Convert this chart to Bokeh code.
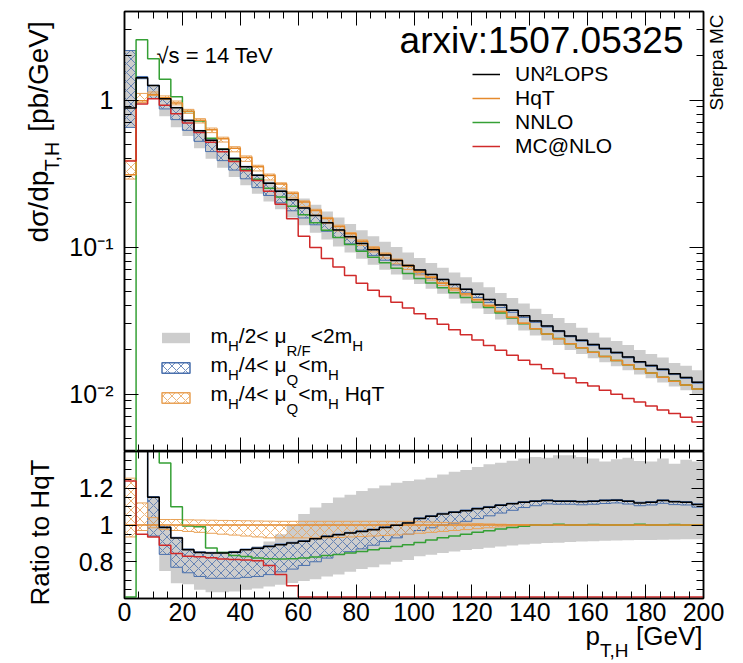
import numpy as np
from bokeh.plotting import figure
from bokeh.layouts import column
from bokeh.models import Range1d, FixedTicker, LinearAxis, LogAxis, Label, Legend, LegendItem
from bokeh.core.properties import value
from bokeh.embed import file_html
from bokeh.resources import INLINE

# ---------------- data (4 GeV bins, 0-200 GeV) ----------------
bin_edges = list(range(0, 201, 4))

# HqT central prediction [pb/GeV]
hqt = [0.31, 0.99, 1.09, 1.035, 0.955, 0.84, 0.727, 0.628, 0.545, 0.470,
       0.407, 0.352, 0.307, 0.268, 0.232, 0.202, 0.177, 0.156, 0.138, 0.123,
       0.1095, 0.0985, 0.0893, 0.0812, 0.0740, 0.0675, 0.0620, 0.0567, 0.0520, 0.0478,
       0.0438, 0.0400, 0.0364, 0.0333, 0.0303, 0.0278, 0.0256, 0.0238, 0.0220, 0.0206,
       0.0192, 0.0180, 0.0169, 0.0158, 0.0148, 0.0139, 0.0130, 0.0122, 0.0115, 0.0108]

# ratios to HqT
un2lops_ratio = [2.85, 1.43, 1.151, 0.987, 0.929, 0.865, 0.85, 0.847, 0.847, 0.852,
                 0.865, 0.874, 0.883, 0.893, 0.902, 0.911, 0.925, 0.938, 0.947, 0.956,
                 0.965, 0.974, 0.987, 0.998, 1.011, 1.035, 1.047, 1.06, 1.069, 1.078,
                 1.089, 1.097, 1.107, 1.115, 1.124, 1.129, 1.133, 1.129, 1.129, 1.126,
                 1.129, 1.133, 1.135, 1.129, 1.12, 1.124, 1.133, 1.126, 1.124, 1.111]
nnlo_ratio = [0.006, 2.6, 1.75, 1.337, 1.10, 0.995, 0.99, 0.875, 0.85, 0.834,
              0.828, 0.82, 0.816, 0.815, 0.817, 0.821, 0.826, 0.834, 0.84, 0.847,
              0.856, 0.865, 0.874, 0.883, 0.893, 0.905, 0.918, 0.93, 0.94, 0.95,
              0.96, 0.969, 0.978, 0.986, 0.993, 1.0, 0.999, 1.004, 1.0, 1.0,
              1.003, 1.0, 1.0, 1.0, 1.004, 1.0, 1.0, 1.003, 1.0, 1.0]
mcnlo_ratio = [1.24, 0.95, 0.935, 0.89, 0.845, 0.83, 0.827, 0.822, 0.815, 0.812,
               0.81, 0.806, 0.78, 0.73, 0.67, 0.585, 0.56, 0.535, 0.53, 0.52,
               0.518, 0.515, 0.516, 0.518, 0.52, 0.52, 0.524, 0.525, 0.527, 0.53,
               0.532, 0.535, 0.545, 0.55, 0.56, 0.57, 0.58, 0.58, 0.585, 0.58,
               0.59, 0.59, 0.59, 0.59, 0.595, 0.595, 0.598, 0.604, 0.604, 0.598]

# m_H/2 < mu_R/F < 2 m_H band (ratio to HqT)
murf_lo = [2.1, 1.41, 0.935, 0.75, 0.683, 0.678, 0.647, 0.634, 0.634, 0.638,
           0.647, 0.655, 0.665, 0.675, 0.685, 0.695, 0.705, 0.72, 0.73, 0.745,
           0.76, 0.77, 0.785, 0.80, 0.81, 0.83, 0.838, 0.847, 0.856, 0.864,
           0.87, 0.876, 0.883, 0.889, 0.894, 0.898, 0.902, 0.904, 0.907, 0.91,
           0.912, 0.914, 0.915, 0.917, 0.918, 0.919, 0.92, 0.921, 0.922, 0.923]
murf_hi = [7.0, 1.46, 1.155, 0.995, 0.935, 0.875, 0.858, 0.855, 0.855, 0.86,
           0.87, 0.885, 0.91, 0.95, 1.0, 1.06, 1.095, 1.12, 1.15, 1.165,
           1.185, 1.2, 1.215, 1.23, 1.24, 1.248, 1.257, 1.275, 1.29, 1.30,
           1.315, 1.33, 1.339, 1.35, 1.362, 1.37, 1.366, 1.38, 1.38, 1.37,
           1.362, 1.345, 1.358, 1.366, 1.348, 1.345, 1.362, 1.333, 1.355, 1.345]
# m_H/4 < mu_Q < m_H band (ratio to HqT)
muq_lo = [2.1, 1.41, 0.94, 0.84, 0.77, 0.74, 0.72, 0.71, 0.71, 0.71,
          0.715, 0.72, 0.73, 0.745, 0.76, 0.78, 0.80, 0.82, 0.84, 0.855,
          0.87, 0.89, 0.91, 0.93, 0.95, 0.97, 0.985, 1.0, 1.01, 1.02,
          1.035, 1.05, 1.065, 1.08, 1.095, 1.105, 1.115, 1.113, 1.113, 1.11,
          1.113, 1.117, 1.12, 1.114, 1.105, 1.109, 1.118, 1.111, 1.109, 1.097]
muq_hi = [7.0, 1.46, 1.155, 0.991, 0.933, 0.869, 0.854, 0.851, 0.851, 0.856,
          0.869, 0.878, 0.887, 0.897, 0.906, 0.915, 0.929, 0.942, 0.951, 0.96,
          0.969, 0.978, 0.991, 1.002, 1.015, 1.039, 1.051, 1.064, 1.073, 1.082,
          1.093, 1.101, 1.111, 1.119, 1.128, 1.133, 1.137, 1.133, 1.133, 1.130,
          1.133, 1.137, 1.139, 1.133, 1.124, 1.128, 1.137, 1.130, 1.128, 1.115]
# HqT m_H/4 < mu_Q < m_H band (ratio to HqT)
hqtband_lo = [0.935, 0.97, 0.985, 0.975, 0.97, 0.965, 0.96, 0.955, 0.95, 0.945,
              0.94, 0.935, 0.93, 0.93, 0.93, 0.93, 0.93, 0.93, 0.932, 0.935,
              0.937, 0.94, 0.943, 0.946, 0.95, 0.955, 0.96, 0.965, 0.97, 0.975,
              0.98, 0.985, 0.99, 0.995, 0.998, 0.998, 0.998, 0.998, 0.998, 0.998,
              0.998, 0.998, 0.998, 0.998, 0.998, 0.998, 0.998, 0.998, 0.998, 0.998]
hqtband_hi = [1.255, 1.12, 1.04, 1.03, 1.03, 1.028, 1.027, 1.026, 1.025, 1.024,
              1.023, 1.022, 1.021, 1.02, 1.02, 1.02, 1.02, 1.02, 1.02, 1.02,
              1.02, 1.02, 1.02, 1.02, 1.02, 1.018, 1.016, 1.014, 1.012, 1.01,
              1.008, 1.006, 1.004, 1.002, 1.002, 1.002, 1.002, 1.002, 1.002, 1.002,
              1.002, 1.002, 1.002, 1.002, 1.002, 1.002, 1.002, 1.002, 1.002, 1.002]

x_major = [0, 20, 40, 60, 80, 100, 120, 140, 160, 180, 200]
log_major = [0.01, 0.1, 1]
log_labels = {1: "1", 0.1: "10\u207b\u00b9", 0.01: "10\u207b\u00b2"}
ratio_major = [0.8, 1.0, 1.2]
ratio_labels = {0.8: "0.8", 1: "1", 1.2: "1.2"}

# ---------------- styling ----------------
FONT = "Liberation Sans"
C_GREY = "#cdcdcd"
C_BLUE = "#4a70ad"
C_HQT = "#e58a2c"
C_HQT_HATCH = "#e9a257"
C_NNLO = "#35a035"
C_MC = "#d02a2a"
DESC = 0.212               # font descent (em)
NB = "\u00a0"
RATIO_FLOOR = 0.608        # out-of-range ratios drawn along the lower edge

FL, FR = 124, 703          # frame left/right pixel
T_TOP, T_BOT = 11, 451     # top panel frame
R_BOT = 598                # ratio panel bottom

W = {' ': 278, NB: 278, '[': 278, ']': 278, '/': 278, ',': 278, '.': 278, ':': 278, '<': 584,
     '=': 584, '@': 1015, 'A': 667, 'C': 722, 'F': 611, 'G': 778, 'H': 722, 'L': 556,
     'M': 833, 'N': 722, 'O': 778, 'P': 667, 'Q': 778, 'R': 722, 'S': 667, 'T': 611,
     'U': 722, 'V': 667, 'a': 556, 'b': 556, 'd': 556, 'e': 556, 'h': 556, 'i': 222,
     'm': 833, 'o': 556, 'p': 556, 'q': 556, 'r': 333, 's': 500, 't': 278, 'v': 500,
     'x': 500, '\u03bc': 576, '\u03c3': 600, '\u221a': 549, '\u00b2': 333}


def tw(s, size):
    return sum(W.get(c, 556) for c in s) / 1000.0 * size


def ext(a):
    return list(a) + [a[-1]]


def absval(ratio):
    return [r * h for r, h in zip(ratio, hqt)]


x_range = Range1d(0, 200)
y_lo = 10 ** (-(T_BOT - 99.5) / 147.0)
y_hi = 10 ** ((99.5 - T_TOP) / 147.0)

p1 = figure(x_range=x_range, y_range=Range1d(y_lo, y_hi), y_axis_type="log",
            width=743, height=T_BOT,
            min_border_left=FL, min_border_right=743 - FR, min_border_top=T_TOP,
            min_border_bottom=0, output_backend="svg", toolbar_location=None)
p2 = figure(x_range=x_range, y_range=Range1d(0.6, 1.4),
            width=743, height=663 - T_BOT,
            min_border_left=FL, min_border_right=743 - FR, min_border_top=0,
            min_border_bottom=663 - R_BOT, output_backend="svg", toolbar_location=None)

for p in (p1, p2):
    p.grid.visible = False
    p.outline_line_color = "black"
    p.outline_line_width = 1.5
    p.background_fill_color = "white"
    p.border_fill_color = "white"


def style_axis(ax, major_in, minor_in, size, standoff, hidden=False):
    ax.major_tick_in = major_in
    ax.major_tick_out = 0
    ax.minor_tick_in = minor_in
    ax.minor_tick_out = 0
    ax.major_label_text_font = FONT
    ax.major_label_text_font_size = size
    ax.major_label_text_color = "black"
    ax.major_label_standoff = standoff
    ax.axis_line_color = "black"
    ax.axis_line_width = 1.5
    ax.major_tick_line_color = "black"
    ax.minor_tick_line_color = "black"
    ax.axis_label = None
    if hidden:
        ax.major_label_text_alpha = 0.0


x_minor = [v for v in range(0, 201, 5) if v % 20]
log_minor = [m * 10.0 ** e for e in (-3, -2, -1, 0) for m in range(2, 10) if y_lo < m * 10.0 ** e < y_hi]
ratio_minor = [round(0.6 + 0.05 * i, 2) for i in range(17)]

# top panel axes
style_axis(p1.xaxis[0], 14, 7, "1px", 0, hidden=True)
p1.xaxis[0].ticker = FixedTicker(ticks=x_major, minor_ticks=x_minor)
ax = LinearAxis(ticker=FixedTicker(ticks=x_major, minor_ticks=x_minor))
style_axis(ax, 14, 7, "1px", 0, hidden=True)
p1.add_layout(ax, "above")
style_axis(p1.yaxis[0], 14, 7, "25px", 11)
p1.yaxis[0].ticker = FixedTicker(ticks=log_major, minor_ticks=log_minor)
p1.yaxis[0].major_label_overrides = log_labels
ax = LogAxis(ticker=FixedTicker(ticks=log_major, minor_ticks=log_minor))
style_axis(ax, 14, 7, "1px", 0, hidden=True)
p1.add_layout(ax, "right")

# ratio panel axes
style_axis(p2.xaxis[0], 14, 7, "25px", 4)
p2.xaxis[0].ticker = FixedTicker(ticks=x_major, minor_ticks=x_minor)
ax = LinearAxis(ticker=FixedTicker(ticks=x_major, minor_ticks=x_minor))
style_axis(ax, 12, 7, "1px", 0, hidden=True)
p2.add_layout(ax, "above")
style_axis(p2.yaxis[0], 12, 7, "25px", 11)
p2.yaxis[0].ticker = FixedTicker(ticks=ratio_major, minor_ticks=ratio_minor)
p2.yaxis[0].major_label_overrides = ratio_labels
ax = LinearAxis(ticker=FixedTicker(ticks=ratio_major, minor_ticks=ratio_minor))
style_axis(ax, 12, 7, "1px", 0, hidden=True)
p2.add_layout(ax, "right")

HATCH = dict(hatch_pattern="x", hatch_scale=9, hatch_weight=0.8)


def draw(p, conv, clamp):
    p.varea_step(x=bin_edges, y1=ext(conv(murf_lo)), y2=ext(conv(murf_hi)), step_mode="after",
                 fill_color=C_GREY, fill_alpha=1.0)
    p.varea_step(x=bin_edges, y1=ext(conv(muq_lo)), y2=ext(conv(muq_hi)), step_mode="after",
                 fill_color=None, hatch_color=C_BLUE, **HATCH)
    for arr in (muq_lo, muq_hi):
        p.step(bin_edges, ext(conv(arr)), mode="after", line_color=C_BLUE, line_width=1)
    p.varea_step(x=bin_edges, y1=ext(conv(hqtband_lo)), y2=ext(conv(hqtband_hi)), step_mode="after",
                 fill_color=None, hatch_color=C_HQT_HATCH, **HATCH)
    for arr in (hqtband_lo, hqtband_hi):
        p.step(bin_edges, ext(conv(arr)), mode="after", line_color=C_HQT_HATCH, line_width=1)
    rs = {}
    rs["NNLO"] = p.step(bin_edges, ext(clamp(conv(nnlo_ratio))), mode="after", line_color=C_NNLO, line_width=1.5)
    rs["HqT"] = p.step(bin_edges, ext(conv([1.0] * len(hqt))), mode="after", line_color=C_HQT, line_width=1.5)
    rs["MC"] = p.step(bin_edges, ext(clamp(conv(mcnlo_ratio))), mode="after", line_color=C_MC, line_width=1.5)
    rs["UN"] = p.step(bin_edges, ext(conv(un2lops_ratio)), mode="after", line_color="black", line_width=1.5)
    return rs


r1 = draw(p1, absval, lambda a: a)
draw(p2, lambda a: list(a), lambda a: [float(v) for v in np.clip(a, RATIO_FLOOR, None)])

# legend of the predictions (rows are 24 px high at this font size)
ITEM_H = 24
leg1 = Legend(items=[LegendItem(label=value("UN\u00b2LOPS"), renderers=[r1["UN"]]),
                     LegendItem(label=value("HqT"), renderers=[r1["HqT"]]),
                     LegendItem(label=value("NNLO"), renderers=[r1["NNLO"]]),
                     LegendItem(label=value("MC@NLO"), renderers=[r1["MC"]])],
              glyph_width=28, glyph_height=20, label_height=20, spacing=0,
              label_standoff=15, padding=0, margin=0, label_text_font=FONT,
              label_text_font_size="21px", label_text_color="black",
              background_fill_alpha=0, border_line_alpha=0)
group_center = 110
leg_bottom = group_center + 2 * ITEM_H
leg1.location = (472 - FL, int(round(T_BOT - leg_bottom)))
p1.add_layout(leg1)

# legend boxes for the uncertainty bands (hidden proxies carrying the band styles)
proxy = dict(left=[bin_edges[0]], right=[bin_edges[0]], bottom=[hqt[0]], top=[hqt[0]], visible=False)
q_grey = p1.quad(fill_color=C_GREY, line_color=None, **proxy)
q_blue = p1.quad(fill_color=None, line_color=C_BLUE, line_width=1.5, hatch_color=C_BLUE, **HATCH, **proxy)
q_or = p1.quad(fill_color=None, line_color=C_HQT_HATCH, line_width=1.5, hatch_color=C_HQT_HATCH, **HATCH, **proxy)
leg2 = Legend(items=[LegendItem(label=value("."), renderers=[q_grey]),
                     LegendItem(label=value("."), renderers=[q_blue]),
                     LegendItem(label=value("."), renderers=[q_or])],
              location=(158 - FL, T_BOT - 404), glyph_width=35, glyph_height=13, label_height=13,
              label_standoff=0, spacing=17, padding=0, margin=0, label_text_font_size="2px",
              label_text_alpha=0.0, background_fill_alpha=0, border_line_alpha=0)
p1.add_layout(leg2)


def add_text(p, ay, fy, px, py, text, size, angle=0, align="left"):
    """text inside the frame: anchored to the frame corner, offset in pixels"""
    if not text.strip():
        return
    py = py + DESC * size
    p.add_layout(Label(x=0, y=ay, x_offset=px - FL, y_offset=fy - py, text=text,
                       text_font=FONT, text_font_size=f"{size}px", text_color="black",
                       text_align=align, text_baseline="bottom", angle=angle, angle_units="deg"))


def add_side_text(p, side, canvas_top, px, py, text, size, angle=0, align="left"):
    """text in the figure border, placed in canvas pixels"""
    if angle:
        px = px + DESC * size
    else:
        py = py + DESC * size
    p.add_layout(Label(x=px, y=py - canvas_top, x_units="canvas", y_units="canvas", text=text,
                       text_font=FONT, text_font_size=f"{size}px", text_color="black",
                       text_align=align, text_baseline="bottom", angle=angle, angle_units="deg"), side)


def add_run(p, ay, fy, x0, y0, pieces):
    pos = x0
    for text, size, shift in pieces:
        add_text(p, ay, fy, pos, y0 + shift, text, size)
        pos += tw(text, size)


MU = "\u03bc"
rows = [
    [("m", 21, 0), ("H", 15, 8), ("/2< " + MU, 21, 0), ("R/F", 15, 13), ("<2m", 21, 0), ("H", 15, 8)],
    [("m", 21, 0), ("H", 15, 8), ("/4< " + MU, 21, 0), ("Q", 15, 13), ("<m", 21, 0), ("H", 15, 8)],
    [("m", 21, 0), ("H", 15, 8), ("/4< " + MU, 21, 0), ("Q", 15, 13), ("<m", 21, 0), ("H", 15, 8),
     (" ", 21, 0), ("HqT", 21, 0)],
]
for row, base in zip(rows, (342, 371.5, 400.5)):
    add_run(p1, y_lo, T_BOT, 210, base, row)

add_text(p1, y_lo, T_BOT, 683, 53, "arxiv:1507.05325", 37, align="right")
add_text(p1, y_lo, T_BOT, 156, 63, "\u221as = 14 TeV", 22)

# ---- texts in the borders ----
add_side_text(p1, "right", 0, 722, 110, "Sherpa MC", 19, angle=90)

# y axis title of the top panel: d sigma/dp_{T,H} [pb/GeV]
YF, YS = 28, 19.5
y_start = 242
main_a = "d\u03c3/dp"
gap = NB * 5
add_side_text(p1, "left", 0, 48, y_start, main_a + gap + "[pb/GeV]", YF, angle=90)
add_side_text(p1, "left", 0, 48 + 10, y_start - tw(main_a, YF), "T,H", YS, angle=90)

# ratio panel y title
add_side_text(p2, "left", T_BOT, 49, 532, "Ratio to HqT", 26, angle=90, align="center")

# x axis title: p_{T,H} [GeV]
XF, XS = 26, 19
x_main = "p" + NB * 5 + "[GeV]"
x_start = 702 - tw(x_main, XF)
add_side_text(p2, "below", T_BOT, x_start, 645, x_main, XF)
add_side_text(p2, "right", T_BOT, x_start + tw("p", XF), 656, "T,H", XS)

layout = column(p1, p2, spacing=0)
open("out.html", "w").write(file_html(layout, INLINE))
